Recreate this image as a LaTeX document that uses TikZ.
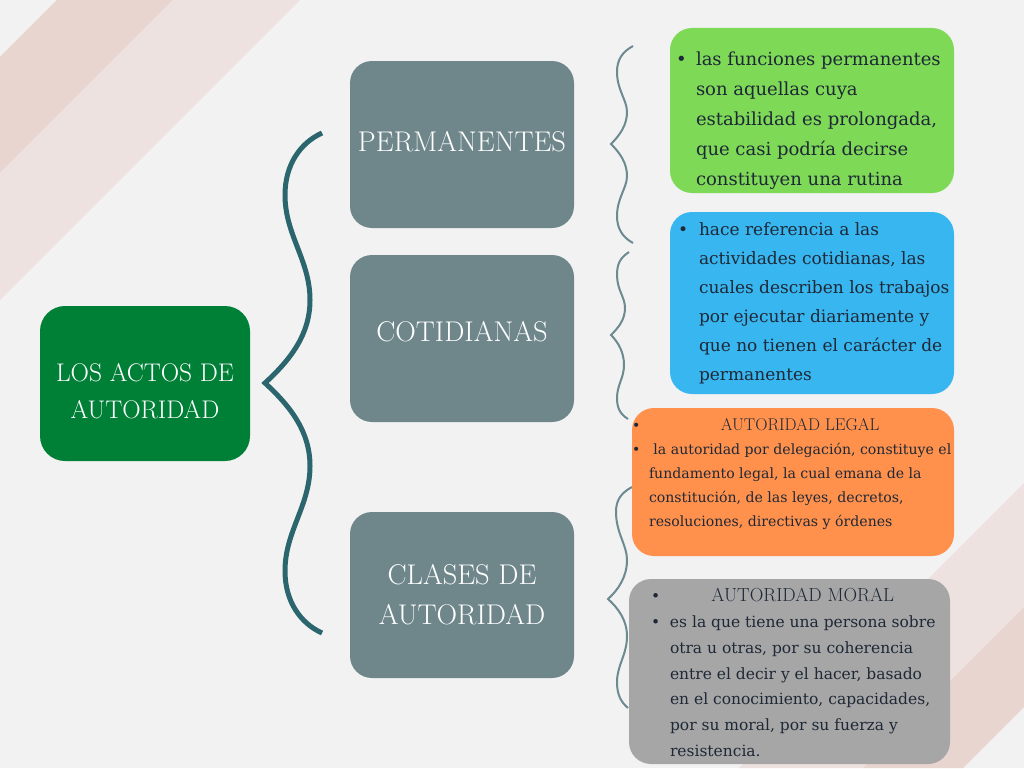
\documentclass[tikz,border=0pt]{standalone}
\usepackage{fontspec}
\newfontfamily\bodyfont{DejaVu Serif}
\usetikzlibrary{positioning}

\definecolor{bgpaper}{HTML}{F2F2F2}
\definecolor{stripedark}{HTML}{E9D5CF}
\definecolor{stripelight}{HTML}{EDE2DF}
\definecolor{rootgreen}{HTML}{008037}
\definecolor{headgray}{HTML}{6F878B}
\definecolor{braceteal}{HTML}{2B666E}
\definecolor{bracegray}{HTML}{6C8A90}
\definecolor{permgreen}{HTML}{7ED957}
\definecolor{cotiblue}{HTML}{38B6F0}
\definecolor{legalorange}{HTML}{FF914D}
\definecolor{moralgray}{HTML}{A6A6A6}
\definecolor{bodyink}{HTML}{1E2836}

\begin{document}
\begin{tikzpicture}[x=1pt,y=-1pt,
    headbox/.style={rounded corners=22pt, fill=headgray, text=white, align=center,
      minimum width=224pt, minimum height=167pt, font=\fontsize{28.5}{40}\selectfont},
    descbox/.style={rounded corners=22pt},
    desctext/.style={inner sep=0pt, text=bodyink},
    bigbrace/.style={draw=braceteal, line width=5pt},
    smallbrace/.style={draw=bracegray, line width=2pt}]

    % paper and the diagonal stripes
    \fill[bgpaper] (0,0) rectangle (1024,768);
    \fill[stripedark] (57,0) -- (173,0) -- (0,173) -- (0,57) -- cycle;
    \fill[stripelight] (173,0) -- (300,0) -- (0,300) -- (0,173) -- cycle;
    \fill[stripelight] (1024,483) -- (739,768) -- (863,768) -- (1024,607) -- cycle;
    \fill[stripedark] (1024,607) -- (863,768) -- (963,768) -- (1024,707) -- cycle;
    \useasboundingbox (0,0) rectangle (1024,768);

    % these are the braces
    \draw[bigbrace] (322,133) .. controls (300,143) and (285,165) .. (285,195)
        .. controls (285,235) and (310,260) .. (310,300)
        .. controls (310,335) and (290,360) .. (265,383)
        .. controls (290,406) and (310,431) .. (310,466)
        .. controls (310,506) and (285,531) .. (285,571)
        .. controls (285,601) and (300,623) .. (322,633);
    \draw[smallbrace] (633,46) .. controls (622,52) and (617,60) .. (617,72)
        .. controls (617,90) and (627,100) .. (627,112)
        .. controls (627,125) and (620,135) .. (611,144)
        .. controls (620,153) and (627,163) .. (627,176)
        .. controls (627,188) and (617,198) .. (617,216)
        .. controls (617,228) and (622,237) .. (633,243);
    \draw[smallbrace] (629,252) .. controls (620,258) and (617,264) .. (617,275)
        .. controls (617,290) and (625,297) .. (625,308)
        .. controls (625,320) and (618,328) .. (611,335)
        .. controls (618,342) and (624,352) .. (624,365)
        .. controls (624,378) and (617,385) .. (617,398)
        .. controls (617,408) and (620,414) .. (628,419);
    \draw[smallbrace] (632,487) .. controls (621,493) and (616,500) .. (616,512)
        .. controls (616,533) and (627,545) .. (627,560)
        .. controls (627,577) and (618,590) .. (608,599)
        .. controls (618,608) and (627,620) .. (627,636)
        .. controls (627,655) and (617,665) .. (617,682)
        .. controls (617,695) and (621,702) .. (628,708);

    % main boxes
    \node[headbox, fill=rootgreen, minimum width=210pt, minimum height=155pt,
        rounded corners=25pt, font=\fontsize{25.5}{37}\selectfont] (root) at (145,383.5)
        {\rule{0pt}{34pt}LOS ACTOS DE\\AUTORIDAD};
    \node[headbox, text depth=6pt] (perm) at (462,144.5) {PERMANENTES};
    \node[headbox, text depth=14pt] (coti) at (462,338.5) {COTIDIANAS};
    \node[headbox, minimum height=166pt] (clases) at (462,595) {CLASES DE\\AUTORIDAD};

    % description boxes
    \node[descbox, fill=permgreen, minimum width=284pt, minimum height=165pt] (permdesc) at (812,110.5) {};
    \node[descbox, fill=cotiblue, minimum width=284pt, minimum height=182pt] (cotidesc) at (812,303) {};
    \node[descbox, fill=legalorange, minimum width=322pt, minimum height=148pt] (legaldesc) at (793,482) {};
    \node[descbox, fill=moralgray, minimum width=321pt, minimum height=185pt] (moraldesc) at (789.5,671.5) {};

    \node[desctext, below right=16pt and 6pt of permdesc.north west,
        font=\bodyfont\fontsize{18}{30}\selectfont] (permtext)
        {\begin{tabular}{@{}p{20pt}@{}l@{}}
        \textbullet & las funciones permanentes\\
        & son aquellas cuya\\
        & estabilidad es prolongada,\\
        & que casi podría decirse\\
        & constituyen una rutina
        \end{tabular}};
    \node[desctext, below right=3pt and 8pt of cotidesc.north west,
        font=\bodyfont\fontsize{17}{29}\selectfont] (cotitext)
        {\begin{tabular}{@{}p{21pt}@{}l@{}}
        \textbullet & hace referencia a las\\
        & actividades cotidianas, las\\
        & cuales describen los trabajos\\
        & por ejecutar diariamente y\\
        & que no tienen el carácter de\\
        & permanentes
        \end{tabular}};
    \node[desctext, below right=6pt and 0pt of legaldesc.north west,
        font=\bodyfont\fontsize{14.1}{24}\selectfont] (legaltext)
        {\begin{tabular}{@{}p{17pt}@{}l@{}}
        \textbullet & \multicolumn{1}{c}{\rmfamily\fontsize{17}{24}\selectfont AUTORIDAD LEGAL}\\
        \textbullet & \ la autoridad por delegación, constituye el\\
        & fundamento legal, la cual emana de la\\
        & constitución, de las leyes, decretos,\\
        & resoluciones, directivas y órdenes
        \end{tabular}};
    \node[desctext, below right=5pt and 22pt of moraldesc.north west,
        font=\bodyfont\fontsize{15.5}{25.7}\selectfont] (moraltext)
        {\begin{tabular}{@{}p{19pt}@{}l@{}}
        \textbullet & \multicolumn{1}{c}{\rmfamily\fontsize{18.9}{25.7}\selectfont AUTORIDAD MORAL}\\
        \textbullet & es la que tiene una persona sobre\\
        & otra u otras, por su coherencia\\
        & entre el decir y el hacer, basado\\
        & en el conocimiento, capacidades,\\
        & por su moral, por su fuerza y\\
        & resistencia.
        \end{tabular}};

\end{tikzpicture}
\end{document}
